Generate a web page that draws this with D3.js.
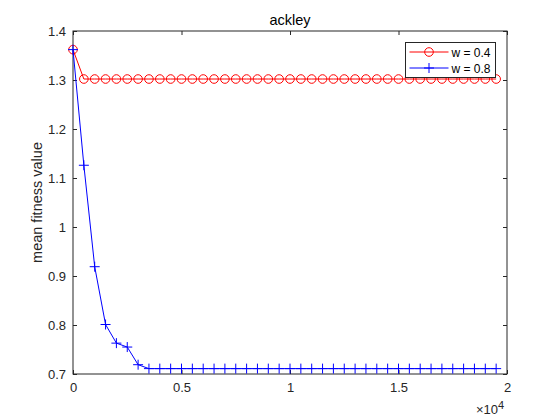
<!DOCTYPE html>
<html><head><meta charset="utf-8">
<script src="https://cdn.jsdelivr.net/npm/d3@7"></script>
<style>body{margin:0;background:#fff;} text{font-family:Arial,"Liberation Sans",Helvetica,sans-serif;}</style>
</head><body><div id="chart"></div>
<script>
const xValues = d3.range(0, 20000, 500);
const seriesNames = ["w = 0.4", "w = 0.8"];
const seriesColors = ["#ff0000", "#0000ff"];
const valuesW04 = [1.362].concat(Array(39).fill(1.302));
const valuesW08 = [1.362, 1.126, 0.919, 0.801, 0.763, 0.755, 0.719].concat(Array(33).fill(0.711));
const xTicks = [0, 5000, 10000, 15000, 20000];
const xTickLabels = ["0", "0.5", "1", "1.5", "2"];
const yTicks = [0.7, 0.8, 0.9, 1, 1.1, 1.2, 1.3, 1.4];
const yTickLabels = ["0.7", "0.8", "0.9", "1", "1.1", "1.2", "1.3", "1.4"];

const W = 560, H = 420;
const m = {l: 73, r: 53, t: 31, b: 46};
const svg = d3.select("#chart").append("svg").attr("width", W).attr("height", H);
const x = d3.scaleLinear().domain([0, 20000]).range([m.l, W - m.r]);
const y = d3.scaleLinear().domain([0.7, 1.4]).range([H - m.b, m.t]);

const g = svg.append("g");
g.append("rect").attr("x", m.l).attr("y", m.t).attr("width", x(20000) - m.l).attr("height", y(0.7) - m.t)
  .attr("fill", "#fff").attr("stroke", "#262626").attr("stroke-width", 1);

const xAxis = d3.axisBottom(x).tickValues(xTicks).tickFormat((d, i) => xTickLabels[i]).tickSizeInner(-4).tickSizeOuter(0).tickPadding(9);
const xTop = d3.axisTop(x).tickValues(xTicks).tickFormat("").tickSizeInner(-4).tickSizeOuter(0);
const yAxis = d3.axisLeft(y).tickValues(yTicks).tickFormat((d, i) => yTickLabels[i]).tickSizeInner(-4).tickSizeOuter(0).tickPadding(7);
const yRight = d3.axisRight(y).tickValues(yTicks).tickFormat("").tickSizeInner(-4).tickSizeOuter(0);

function style(sel) {
  sel.select(".domain").remove();
  sel.selectAll("line").attr("stroke", "#262626");
  sel.selectAll("text").attr("fill", "#262626").style("font-size", "13px");
}
g.append("g").attr("transform", `translate(0,${y(0.7)})`).call(xAxis).call(style);
g.append("g").attr("transform", `translate(0,${m.t})`).call(xTop).call(style);
g.append("g").attr("transform", `translate(${m.l},0)`).call(yAxis).call(style);
g.append("g").attr("transform", `translate(${x(20000)},0)`).call(yRight).call(style);

const ex = g.append("text").attr("x", 476).attr("y", 414).attr("fill", "#262626").style("font-size", "13px");
ex.append("tspan").text("\u00d710");
ex.append("tspan").attr("dy", -5).style("font-size", "11px").text("4");

g.append("text").attr("x", (m.l + x(20000)) / 2).attr("y", 25).attr("text-anchor", "middle")
  .attr("fill", "#000").style("font-size", "14.5px").text("ackley");
g.append("text").attr("transform", `translate(42,${(m.t + y(0.7)) / 2}) rotate(-90)`).attr("text-anchor", "middle")
  .attr("fill", "#262626").style("font-size", "14.5px").text("mean fitness value");

const line = d3.line().x(d => x(d[0])).y(d => y(d[1]));
const data = [valuesW04, valuesW08].map(vals => xValues.map((xv, i) => [xv, vals[i]]));

data.forEach((pts, si) => {
  const c = seriesColors[si];
  g.append("path").datum(pts).attr("d", line).attr("fill", "none").attr("stroke", c).attr("stroke-width", 1);
  if (si === 0) {
    g.selectAll(null).data(pts).enter().append("circle")
      .attr("cx", d => x(d[0])).attr("cy", d => y(d[1])).attr("r", 4.3)
      .attr("fill", "none").attr("stroke", c).attr("stroke-width", 1);
  } else {
    g.selectAll(null).data(pts).enter().append("path")
      .attr("d", d => `M${x(d[0]) - 5},${y(d[1])}H${x(d[0]) + 5}M${x(d[0])},${y(d[1]) - 5}V${y(d[1]) + 5}`)
      .attr("stroke", c).attr("stroke-width", 1).attr("fill", "none");
  }
});

const lg = g.append("g").attr("transform", "translate(405.5,42.5)");
lg.append("rect").attr("width", 90).attr("height", 35).attr("fill", "#fff").attr("stroke", "#262626").attr("stroke-width", 1);
seriesNames.forEach((name, i) => {
  const ly = 9.5 + i * 16;
  lg.append("line").attr("x1", 4).attr("x2", 43).attr("y1", ly).attr("y2", ly).attr("stroke", seriesColors[i]).attr("stroke-width", 1);
  if (i === 0) {
    lg.append("circle").attr("cx", 23.5).attr("cy", ly).attr("r", 4.3).attr("fill", "none").attr("stroke", seriesColors[i]);
  } else {
    lg.append("path").attr("d", `M18.5,${ly}H28.5M23.5,${ly - 5}V${ly + 5}`).attr("stroke", seriesColors[i]).attr("fill", "none");
  }
  lg.append("text").attr("x", 46).attr("y", ly + 4.5).attr("fill", "#000").style("font-size", "12px").text(name);
});
</script></body></html>
